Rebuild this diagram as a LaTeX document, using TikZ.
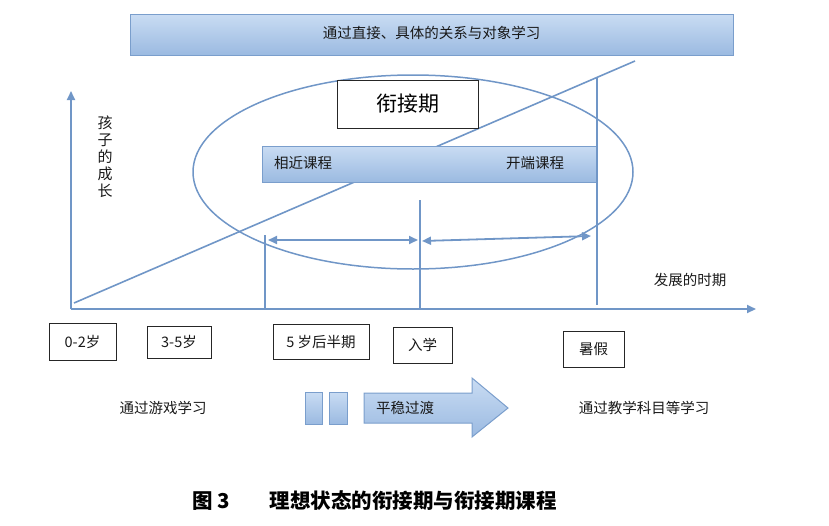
\documentclass[tikz,border=0pt]{standalone}
\usepackage{fontspec}
\setmainfont{Noto Sans CJK SC}
\usetikzlibrary{arrows.meta,shapes.geometric}
\definecolor{bline}{RGB}{112,150,199}
\definecolor{btop}{RGB}{201,220,243}
\definecolor{bbot}{RGB}{155,186,225}
\definecolor{bdraw}{RGB}{122,158,204}
\definecolor{tgray}{RGB}{25,25,25}
\begin{document}
\begin{tikzpicture}[x=1pt,y=-1pt,
  bluline/.style={draw=bline, line width=1.6pt},
  axisline/.style={draw=bline, line width=2pt, -{Triangle[width=8pt,length=9pt]}},
  dblarrow/.style={draw=bline, line width=1.8pt, {Triangle[width=8pt,length=9pt]}-{Triangle[width=8pt,length=9pt]}},
  blbox/.style={draw=bdraw, line width=1pt, top color=btop, bottom color=bbot, inner sep=0pt},
  wbox/.style={draw=black!85, line width=0.9pt, fill=white, inner sep=0pt},
  txt/.style={font=\fontsize{14.5}{16}\selectfont, text=tgray},
  captxt/.style={font=\fontsize{20.5}{22}\selectfont\bfseries, text=black}
]
\useasboundingbox (0,0) rectangle (829,525);

% top banner
\node[blbox, minimum width=603pt, minimum height=41pt] (banner) at (431.5,34.5) {};
\node[txt] (bannertxt) at (431.5,33) {通过直接、具体的关系与对象学习};

% ellipse
\node[ellipse, draw=bline, line width=1.5pt, minimum width=440pt, minimum height=194pt, inner sep=0pt] (ell) at (413,172) {};

% axes
\coordinate (origin) at (71,309);
\coordinate (ytip) at (71,91);
\coordinate (xtip) at (756,309);
\draw[axisline] (origin) -- (ytip);
\draw[axisline] (origin) -- (xtip);

% diagonal growth line
\coordinate (d0) at (74,303);
\coordinate (d1) at (635,61);
\draw[bluline] (d0) -- (d1);

% curriculum bar
\node[blbox, minimum width=334pt, minimum height=36pt] (bar) at (429,164) {};
\node[txt] (near) at (303,163) {相近课程};
\node[txt] (start) at (535,163) {开端课程};

% transition period box
\node[wbox, minimum width=141pt, minimum height=48pt] (xjq) at (407.5,104) {\fontsize{21}{24}\selectfont 衔接期};

% vertical markers
\coordinate (v1t) at (265,235); \coordinate (v1b) at (265,308);
\coordinate (v2t) at (420,200); \coordinate (v2b) at (420,308);
\coordinate (v3t) at (597,78);  \coordinate (v3b) at (597,305);
\draw[bluline] (v1t) -- (v1b);
\draw[bluline] (v2t) -- (v2b);
\draw[bluline] (v3t) -- (v3b);

% double arrows
\coordinate (a1l) at (268,240); \coordinate (a1r) at (418,240);
\coordinate (a2l) at (422,241); \coordinate (a2r) at (591,236);
\draw[dblarrow] (a1l) -- (a1r);
\draw[dblarrow] (a2l) -- (a2r);

% axis labels
\node[txt, align=center, font=\fontsize{15}{17}\selectfont] (ylab) at (105,157) {孩\\子\\的\\成\\长};
\node[txt] (xlab) at (690,280) {发展的时期};

% stage boxes
\node[wbox, txt, minimum width=67pt, minimum height=37pt] (s1) at (82.5,341.5) {0-2岁};
\node[wbox, txt, minimum width=64pt, minimum height=32pt] (s2) at (179,342) {3-5岁};
\node[wbox, txt, minimum width=96pt, minimum height=35pt] (s3) at (321,341.5) {5 岁后半期};
\node[wbox, txt, minimum width=59pt, minimum height=36pt] (s4) at (422.5,345) {入学};
\node[wbox, txt, minimum width=61pt, minimum height=36pt] (s5) at (593.5,349) {暑假};

% bottom row
\node[txt] (play) at (163,408) {通过游戏学习};
\node[blbox, minimum width=17pt, minimum height=32pt] (r1) at (313.5,408) {};
\node[blbox, minimum width=18pt, minimum height=32pt] (r2) at (338,408) {};
\coordinate (bigtip) at (508,408);
\draw[draw=bdraw, line width=1pt, top color=btop, bottom color=bbot]
  (364,393) -- (472,393) -- (472,378) -- (bigtip) -- (472,437) -- (472,423) -- (364,423) -- cycle;
\node[txt] (smooth) at (405,408) {平稳过渡};
\node[txt] (subj) at (644,408) {通过教学科目等学习};

% caption
\node[captxt] (fig) at (211,501) {图 3};
\node[captxt] (cap) at (413,501) {理想状态的衔接期与衔接期课程};
\end{tikzpicture}
\end{document}
